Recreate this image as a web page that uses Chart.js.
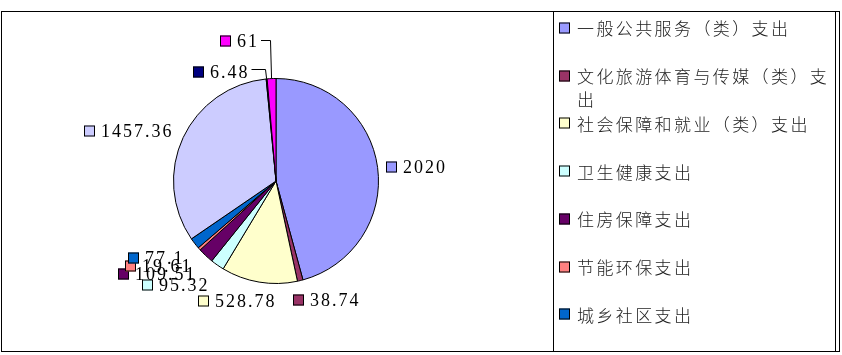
<!DOCTYPE html>
<html>
<head>
<meta charset="utf-8">
<script src="https://cdn.jsdelivr.net/npm/chart.js@4/dist/chart.umd.min.js"></script>
<style>
  html, body { margin: 0; padding: 0; background: #fff; }
  #wrap { position: relative; width: 842px; height: 355px; }
  canvas { display: block; }
</style>
</head>
<body>
<div id="wrap"><canvas id="c" width="842" height="355"></canvas></div>
<script>
// ---- data ----
const categories = [
  '一般公共服务（类）支出',
  '文化旅游体育与传媒（类）支出',
  '社会保障和就业（类）支出',
  '卫生健康支出',
  '住房保障支出',
  '节能环保支出',
  '城乡社区支出',
  '', '', ''
];
const values = [2020, 38.74, 528.78, 95.32, 109.51, 19.61, 77.1, 1457.36, 6.48, 61];
const valueLabels = ['2020', '38.74', '528.78', '95.32', '109.51', '19.61', '77.1', '1457.36', '6.48', '61'];
const legendCount = 7;

// ---- styles / layout ----
const colors = ['#9999FF', '#993366', '#FFFFCC', '#CCFFFF', '#660066', '#FF8080', '#0066CC', '#CCCCFF', '#000080', '#FF00FF'];
const labelNudge = [[-4, 1.5], [-10, 7], [-59, 7], [-68, 10], [-79, 9], [-65, 9], [-57, 7], [-88, -1], [-72, 6], [-51, -25]];
const leaderIdx = { 8: -3, 9: -1 };

const overlayPlugin = {
  id: 'overlay',
  afterDraw(chart) {
    const ctx = chart.ctx;
    const meta = chart.getDatasetMeta(0);
    ctx.save();
    // frames
    ctx.strokeStyle = '#000';
    ctx.lineWidth = 1;
    ctx.strokeRect(1.5, 11.5, 838, 340);
    ctx.beginPath();
    ctx.moveTo(553.5, 11.5); ctx.lineTo(553.5, 351.5);
    ctx.moveTo(835.5, 11.5); ctx.lineTo(835.5, 351.5);
    ctx.stroke();

    // data labels
    ctx.font = '18px "Liberation Serif", "DejaVu Serif", serif';
    ctx.letterSpacing = '2px';
    ctx.textBaseline = 'middle';
    ctx.textAlign = 'left';
    meta.data.forEach((arc, i) => {
      const p = arc.getProps(['x', 'y', 'startAngle', 'endAngle', 'outerRadius'], true);
      const mid = (p.startAngle + p.endAngle) / 2;
      const R = p.outerRadius + 12.5;
      const ax = p.x + Math.cos(mid) * R;
      const ay = p.y + Math.sin(mid) * R;
      const bx = Math.round(ax + labelNudge[i][0]);
      const by = Math.round(ay + labelNudge[i][1]);
      ctx.fillStyle = colors[i];
      ctx.fillRect(bx, by - 5.5, 11, 11);
      ctx.strokeStyle = '#000';
      ctx.lineWidth = 1;
      ctx.strokeRect(bx + 0.5, by - 5, 10, 10);
      ctx.fillStyle = '#000';
      const tx = bx + 17;
      ctx.fillText(valueLabels[i], tx, by + 1);
      if (leaderIdx[i] !== undefined) {
        const tw = ctx.measureText(valueLabels[i]).width;
        const ly = by + leaderIdx[i] + 0.5;
        const ex = p.x + Math.cos(mid) * p.outerRadius;
        const ey = p.y + Math.sin(mid) * p.outerRadius;
        ctx.beginPath();
        ctx.moveTo(tx + tw + 2, ly);
        ctx.lineTo(Math.round(ex) - 1.5, ly);
        ctx.lineTo(ex, ey);
        ctx.stroke();
      }
    });

    // legend
    ctx.font = '300 17px "Noto Sans CJK SC", sans-serif';
    ctx.letterSpacing = '2.4px';
    const maxW = 256;
    for (let i = 0; i < legendCount; i++) {
      const cy = 28 + i * 47.7;
      ctx.fillStyle = colors[i];
      ctx.fillRect(559, Math.round(cy) - 5.5, 11, 11);
      ctx.strokeStyle = '#000';
      ctx.strokeRect(559.5, Math.round(cy) - 5, 10, 10);
      // wrap
      const chars = Array.from(categories[i]);
      const lines = [];
      let cur = '';
      chars.forEach(ch => {
        if (ctx.measureText(cur + ch).width > maxW && cur) { lines.push(cur); cur = ch; }
        else cur += ch;
      });
      if (cur) lines.push(cur);
      ctx.fillStyle = '#222';
      lines.forEach((ln, k) => ctx.fillText(ln, 577, cy + 1 + k * 23));
    }
    ctx.restore();
  }
};

new Chart(document.getElementById('c'), {
  type: 'pie',
  data: {
    labels: categories,
    datasets: [{
      data: values,
      backgroundColor: colors,
      borderColor: '#000',
      borderWidth: 1,
      borderAlign: 'center'
    }]
  },
  options: {
    responsive: false,
    animation: false,
    layout: { padding: { left: 173, right: 463, top: 78, bottom: 71 } },
    plugins: {
      legend: { display: false },
      tooltip: { enabled: false }
    }
  },
  plugins: [overlayPlugin]
});
</script>
</body>
</html>
